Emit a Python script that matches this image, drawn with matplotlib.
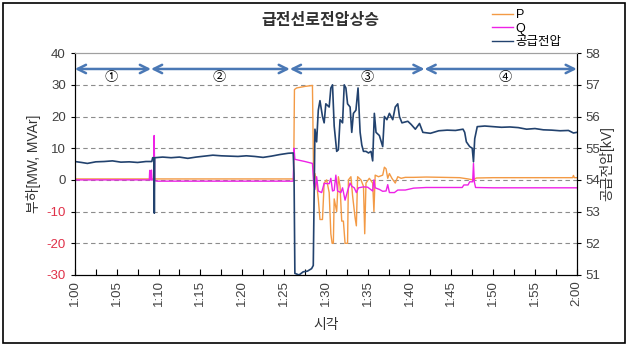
import matplotlib
matplotlib.use("Agg")
import matplotlib.pyplot as plt
from matplotlib.patches import Rectangle
from matplotlib.lines import Line2D

plt.rcParams['font.family'] = ['Liberation Sans', 'Noto Sans CJK KR', 'DejaVu Sans']

# minutes after 1:00
volt_t = [0, 0.8, 1.5, 2.5, 3.5, 4.5, 5.5, 6.5, 7.5, 8.5, 9.2, 9.3, 9.45, 9.5, 9.55,
          10.5, 11.5, 12.5, 13.5, 14.5, 15.5, 16.5, 17.5, 18.5, 19.5, 20.5, 21.5, 22.5,
          23.5, 24.5, 25.5, 26.1, 26.2, 26.3, 26.8, 27.3, 27.8, 28.3, 28.5, 28.7, 28.9,
          29.1, 29.3, 29.6, 29.8, 30.0, 30.4, 30.6, 30.8, 31.0, 31.3, 31.5, 31.7, 32.0,
          32.2, 32.4, 32.6, 32.9, 33.1, 33.3, 33.6, 33.85, 34.1, 34.3, 34.5, 34.8, 35.1,
          35.4, 35.6, 35.8, 36.0, 36.4, 36.8, 37.0, 37.3, 37.6, 38.0, 38.3, 38.6, 38.8,
          39.1, 39.8, 40.2, 40.7, 41.2, 41.6, 42.5, 43.5, 44.5, 45.5, 46.4, 46.6, 46.8,
          47.2, 47.5, 47.65, 47.8, 48.1, 49, 50, 51, 52, 53, 54, 55, 56, 57, 58, 59,
          59.6, 60]
volt_kv = [54.58, 54.55, 54.52, 54.57, 54.58, 54.6, 54.56, 54.57, 54.55, 54.58, 54.58,
           54.7, 54.7, 52.95, 54.7, 54.72, 54.7, 54.72, 54.68, 54.72, 54.75, 54.78, 54.76,
           54.75, 54.74, 54.76, 54.74, 54.71, 54.75, 54.8, 54.84, 54.85, 54.2, 51.05, 51.0,
           51.1, 51.12, 51.2, 51.3, 55.6, 55.2, 56.2, 56.5, 56.0, 55.8, 56.4, 56.3, 56.9,
           57.0, 55.7, 54.9, 54.95, 55.9, 55.8, 57.0, 56.9, 56.4, 56.3, 55.5, 56.1, 56.2,
           56.9, 55.5, 55.1, 54.9, 54.9, 54.85, 54.9, 54.6, 56.1, 55.5, 55.4, 55.05, 56.0,
           55.9, 56.1, 55.9, 56.3, 56.4, 56.0, 55.8, 55.85, 55.75, 55.6, 55.78, 55.5, 55.47,
           55.55, 55.57, 55.56, 55.6, 55.5, 55.2, 55.05, 55.0, 54.57, 55.3, 55.68, 55.7,
           55.68, 55.66, 55.67, 55.65, 55.6, 55.62, 55.58, 55.57, 55.55, 55.56, 55.48, 55.5]

p_t = [0, 26.15, 26.25, 26.5, 27.5, 28.4, 28.55, 28.7, 28.9, 29.1, 29.3, 29.6, 29.8,
       30.1, 30.4, 30.6, 30.75, 30.9, 31.0, 31.3, 31.5, 31.7, 31.9, 32.1, 32.3, 32.6,
       32.7, 33.0, 33.2, 33.5, 33.65, 33.8, 34.2, 34.5, 34.65, 34.8, 35.2, 35.6, 35.75,
       35.9, 36.3, 36.8, 37.0, 37.2, 37.4, 37.6, 37.9, 38.3, 38.6, 39.0, 39.5, 40.5, 42,
       44, 46, 47, 47.6, 48.0, 50, 55, 59.5, 59.6, 59.7, 60]
p_mw = [0.3, 0.3, 28.5, 29.0, 29.5, 29.8, -1, 2, -1, -6, -12.5, -12.5, -1, 0, -4, -17,
        -20, -20, -6, -10, 1, -2, -13, -13, -20, -20, 0, 1, -5, -12, -14.5, 1, 0, -2, -17,
        -1, 0.5, -1, -10, 1.5, 1, 1.5, 4, 3.5, 0.5, 2, 0.5, -1, 1, 0.5, 0.8, 0.8, 0.9,
        0.8, 0.7, 0.3, 0.0, 0.6, 0.7, 0.7, 0.7, 1.4, 0.7, 0.7]

q_t = [0, 8.9, 8.95, 9.0, 9.1, 9.15, 9.2, 9.4, 9.48, 9.55, 9.8, 26.1, 26.2, 26.3, 26.8,
       27.5, 28.4, 28.55, 28.7, 28.9, 29.1, 29.5, 29.8, 30.4, 30.6, 30.8, 31.0, 31.2,
       31.4, 31.8, 32.0, 32.3, 32.6, 32.9, 33.1, 33.4, 33.65, 33.9, 34.5, 35, 35.6, 35.75,
       35.9, 36.4, 36.8, 37.2, 37.4, 37.6, 38.2, 38.6, 39.5, 40.5, 42, 46.3, 46.5, 47.0,
       47.2, 47.55, 47.65, 47.75, 47.9, 50, 55, 60]
q_mvar = [0.0, 0.0, 3.0, 0.0, 0.0, 3.1, 0.0, 0.0, 14, -0.2, -0.4, -0.4, 10, 6.5, 6.2,
          5.8, 5.2, -1, -3, 1, -3.5, -4, -1.1, -1.2, 0.5, -3.5, -3.3, 1.5, -3.5, -4, -2.5,
          -6.4, -3.5, -1, -2, -2.5, -4, -2.5, -2.2, -2.3, -3.5, 0, -2.5, -3.0, -3.6, -3.5,
          -1.5, -4, -4, -3.2, -3.2, -2.6, -2.4, -2.4, -1.6, -1.6, -0.6, -0.6, 5.2, -0.6,
          -2.4, -2.5, -2.5, -2.5]

# stage arrows (minutes) and labels
stage_edges = [0, 9.1, 25.7, 41.8, 60]
stage_labels = ['①', '②', '③', '④']
stage_label_t = [4.4, 17.3, 35.0, 51.4]

x_ticks = [0, 5, 10, 15, 20, 25, 30, 35, 40, 45, 50, 55, 60]
x_ticklabels = ['1:00', '1:05', '1:10', '1:15', '1:20', '1:25', '1:30', '1:35',
                '1:40', '1:45', '1:50', '1:55', '2:00']
left_ticks = [40, 30, 20, 10, 0, -10, -20, -30]
right_ticks = [58, 57, 56, 55, 54, 53, 52, 51]

c_p = '#F39A45'
c_q = '#EE22E6'
c_v = '#22426E'
c_arrow = '#4A78B5'
c_text = '#404040'

fig = plt.figure(figsize=(6.29, 3.45), dpi=100)
ax = fig.add_axes([0.119, 0.203, 0.798, 0.643])
ax2 = ax.twinx()

ax.plot(p_t, p_mw, color=c_p, lw=1.0)
ax.plot(q_t, q_mvar, color=c_q, lw=1.0)
ax2.plot(volt_t, volt_kv, color=c_v, lw=1.2)

ax.set_xlim(0, 60)
ax.set_ylim(-30, 40)
ax2.set_ylim(51, 58)

for g in [30, 20, 10, 0, -10, -20]:
    ax.axhline(g, color='#8C8C8C', lw=0.8, ls=(0, (4, 3)), zorder=0)

ax.set_xticks(x_ticks)
ax.set_xticklabels(x_ticklabels, rotation=90, fontsize=9.5, color=c_text)
ax.set_xticks([t + 2.5 for t in x_ticks[:-1]], minor=True)
ax.tick_params(axis='x', which='both', direction='in', length=4, width=0.8)
ax.set_yticks(left_ticks)
ax.set_yticklabels([str(v) for v in left_ticks], fontsize=9.5)
for lbl, v in zip(ax.get_yticklabels(), left_ticks):
    lbl.set_color('#E03048' if v < 0 else c_text)
ax.tick_params(axis='y', direction='out', length=3, width=0.8)
ax2.set_yticks(right_ticks)
ax2.set_yticklabels([str(v) for v in right_ticks], fontsize=9.5, color=c_text)
ax2.tick_params(axis='y', direction='out', length=3, width=0.8)

for a in (ax, ax2):
    a.spines['top'].set_color('#A0A0A0')
    a.spines['left'].set_color('black')
    a.spines['bottom'].set_color('black')
    a.spines['right'].set_color('black')

ax.set_ylabel('부하[MW, MVAr]', fontsize=10, color='#333333', labelpad=4)
ax2.set_ylabel('공급전압[kV]', fontsize=10, color='#333333', rotation=90, labelpad=-1)
ax.set_xlabel('시각', fontsize=10, color='#333333', labelpad=9)

# stage arrows at 35 (left axis) = 57.5 kV
for i in range(4):
    ax2.annotate('', xy=(stage_edges[i + 1], 57.5), xytext=(stage_edges[i], 57.5),
                 arrowprops=dict(arrowstyle='<->,head_length=0.6,head_width=0.3',
                                 color=c_arrow, lw=1.8, shrinkA=0, shrinkB=0))
    ax2.text(stage_label_t[i], 57.2, stage_labels[i], fontsize=9.5, ha='center',
             va='center', color='black')

fig.text(0.509, 0.942, '급전선로전압상승', ha='center', va='center', fontsize=11.5,
         fontweight='bold', color='#303030')

handles = [Line2D([], [], color=c_p, lw=1.0), Line2D([], [], color=c_q, lw=1.0),
           Line2D([], [], color=c_v, lw=1.0)]
fig.legend(handles, ['P', 'Q', '공급전압'], loc='upper left',
           bbox_to_anchor=(0.768, 0.998), frameon=False, fontsize=9,
           handlelength=1.7, handletextpad=0.2, labelspacing=0.1, borderpad=0.2)

fig.add_artist(Rectangle((3 / 629, 2 / 345), 622 / 629, 340 / 345, transform=fig.transFigure,
                         fill=False, lw=1.2, edgecolor='black'))

fig.savefig('out.png', dpi=100)
